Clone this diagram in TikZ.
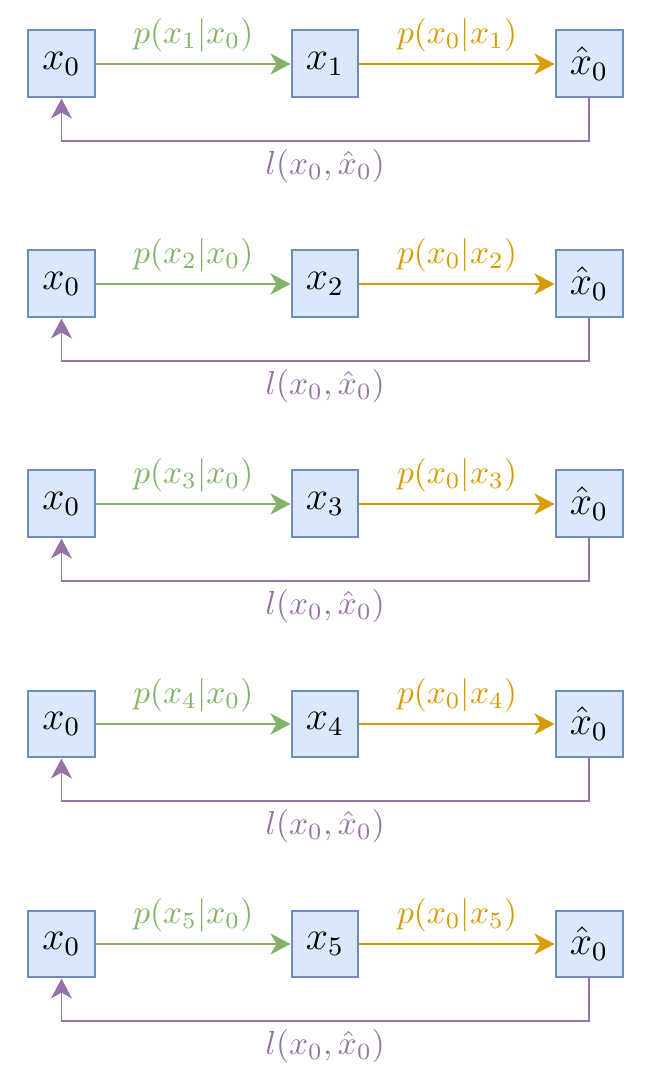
\documentclass[tikz,border=0pt]{standalone}
\usetikzlibrary{arrows.meta}

\definecolor{boxfill}{HTML}{DAE8FC}
\definecolor{boxline}{HTML}{6C8EBF}
\definecolor{fwdgreen}{HTML}{82B366}
\definecolor{backorange}{HTML}{D79B00}
\definecolor{losspurple}{HTML}{9673A6}

\tikzset{
  state/.style={draw=boxline, fill=boxfill, line width=0.6pt, minimum size=20.1pt, inner sep=0pt, font=\large},
  link/.style={line width=0.6pt, -{Stealth[length=6pt, width=6.3pt, inset=1.8pt]}},
  losstext/.style={below, inner sep=2pt},
}

\begin{document}
\begin{tikzpicture}[x=0.3pt, y=0.3pt]
\useasboundingbox (0,0) rectangle (652,1086);

% row 1
\node[state] (in1) at (61.5,1022) {$x_0$};
\node[state] (mid1) at (325,1022) {$x_1$};
\node[state] (out1) at (589,1022) {$\hat{x}_0$};
\draw[link, fwdgreen] (in1) -- node[above]{$p(x_1|x_0)$} (mid1);
\draw[link, backorange] (mid1) -- node[above]{$p(x_0|x_1)$} (out1);
\draw[link, losspurple] (out1.south) -- ++(0,-43) -| node[pos=.25, losstext]{$l(x_0,\hat{x}_0)$} (in1.south);

% row 2
\node[state] (in2) at (61.5,802) {$x_0$};
\node[state] (mid2) at (325,802) {$x_2$};
\node[state] (out2) at (589,802) {$\hat{x}_0$};
\draw[link, fwdgreen] (in2) -- node[above]{$p(x_2|x_0)$} (mid2);
\draw[link, backorange] (mid2) -- node[above]{$p(x_0|x_2)$} (out2);
\draw[link, losspurple] (out2.south) -- ++(0,-43) -| node[pos=.25, losstext]{$l(x_0,\hat{x}_0)$} (in2.south);

% row 3
\node[state] (in3) at (61.5,582) {$x_0$};
\node[state] (mid3) at (325,582) {$x_3$};
\node[state] (out3) at (589,582) {$\hat{x}_0$};
\draw[link, fwdgreen] (in3) -- node[above]{$p(x_3|x_0)$} (mid3);
\draw[link, backorange] (mid3) -- node[above]{$p(x_0|x_3)$} (out3);
\draw[link, losspurple] (out3.south) -- ++(0,-43) -| node[pos=.25, losstext]{$l(x_0,\hat{x}_0)$} (in3.south);

% row 4
\node[state] (in4) at (61.5,362) {$x_0$};
\node[state] (mid4) at (325,362) {$x_4$};
\node[state] (out4) at (589,362) {$\hat{x}_0$};
\draw[link, fwdgreen] (in4) -- node[above]{$p(x_4|x_0)$} (mid4);
\draw[link, backorange] (mid4) -- node[above]{$p(x_0|x_4)$} (out4);
\draw[link, losspurple] (out4.south) -- ++(0,-43) -| node[pos=.25, losstext]{$l(x_0,\hat{x}_0)$} (in4.south);

% row 5
\node[state] (in5) at (61.5,142) {$x_0$};
\node[state] (mid5) at (325,142) {$x_5$};
\node[state] (out5) at (589,142) {$\hat{x}_0$};
\draw[link, fwdgreen] (in5) -- node[above]{$p(x_5|x_0)$} (mid5);
\draw[link, backorange] (mid5) -- node[above]{$p(x_0|x_5)$} (out5);
\draw[link, losspurple] (out5.south) -- ++(0,-43) -| node[pos=.25, losstext]{$l(x_0,\hat{x}_0)$} (in5.south);

\end{tikzpicture}
\end{document}
